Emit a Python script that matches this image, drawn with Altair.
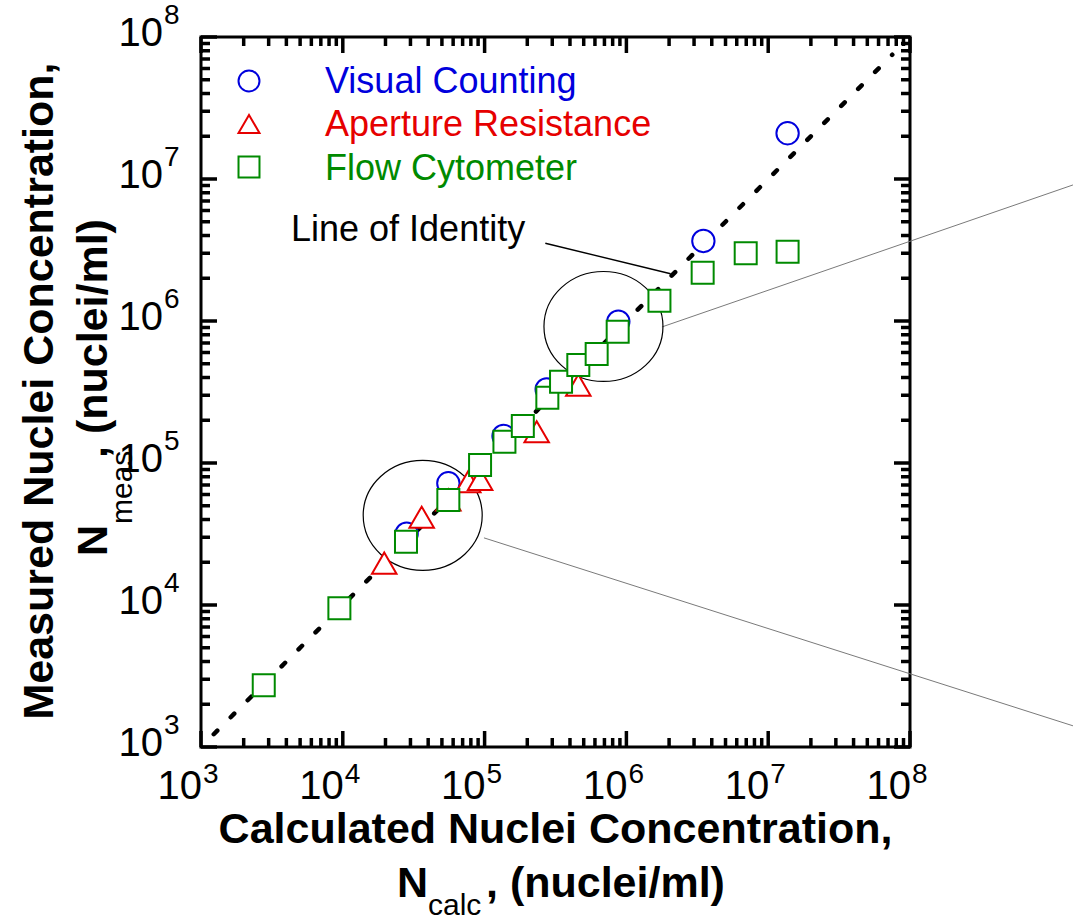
import altair as alt
import pandas as pd

W, H = 709, 710
FONT = "Liberation Sans"

# ---------------- data ----------------
# Visual Counting (blue circles)
vc_x = [2.82e4, 5.55e4, 1.36e5, 2.74e5, 8.77e5, 3.49e6, 1.37e7]
vc_y = [3.18e4, 7.2e4, 1.55e5, 3.3e5, 9.9e5, 3.66e6, 2.1e7]
# Aperture Resistance (red triangles)
ar_x = [1.96e4, 3.6e4, 5.55e4, 7.67e4, 9.3e4, 2.33e5, 4.58e5]
ar_y = [1.97e4, 4.15e4, 5.49e4, 7.39e4, 7.67e4, 1.66e5, 3.54e5]
# Flow Cytometer (green squares)
fc_x = [2.77e3, 9.46e3, 2.79e4, 5.55e4, 9.29e4, 1.38e5, 1.86e5, 2.77e5,
        3.46e5, 4.58e5, 6.17e5, 8.68e5, 1.71e6, 3.45e6, 6.94e6, 1.37e7]
fc_y = [2.72e3, 9.5e3, 2.79e4, 5.49e4, 9.68e4, 1.41e5, 1.82e5, 2.88e5,
        3.74e5, 4.9e5, 5.86e5, 8.41e5, 1.39e6, 2.19e6, 3.0e6, 3.08e6]

series_names = ["Visual Counting", "Aperture Resistance", "Flow Cytometer"]
series_colors = ["#0000dd", "#e60000", "#008a00"]
series_shapes = ["circle", "triangle-up", "square"]
series_sizes = [500, 600, 484]

# line of identity
identity_vals = [1.23e3, 7.5e7]
# "Line of Identity" leader
leader_x = [2.68e5, 2.05e6]
leader_y = [3.53e6, 2.15e6]
# highlight ellipses
ellipse_x = [3.66e4, 6.89e5]
ellipse_y = [4.28e4, 9.15e5]
# zoom-out guide lines (start at ellipse edge, run off to the right)
guide_x1 = [1.78e6, 9.9e4]
guide_y1 = [9.08e5, 2.97e4]
guide_x2 = [1.41e9, 1.41e9]
guide_y2 = [9.08e6, 1.41e3]

# axis ticks / labels
decades = [1e3, 1e4, 1e5, 1e6, 1e7, 1e8]
tick_base = "10"
tick_exp = ["3", "4", "5", "6", "7", "8"]
minor_mult = [2, 3, 4, 5, 6, 7, 8, 9]
minor_vals = [m * d for d in decades[:-1] for m in minor_mult]
MAJOR_LEN, MINOR_LEN = 16, 9

# ---------------- frames ----------------
pts_rows = []
for name, xs_, ys_, col, shp, sz in zip(series_names, [vc_x, ar_x, fc_x], [vc_y, ar_y, fc_y],
                                         series_colors, series_shapes, series_sizes):
    for a, b in zip(xs_, ys_):
        pts_rows.append({"x": a, "y": b, "series": name, "color": col, "shape": shp, "size": sz})
pts_df = pd.DataFrame(pts_rows)

leg_df = pd.DataFrame({"name": series_names, "color": series_colors,
                       "shape": series_shapes, "row": [0, 1, 2]})
lab_df = pd.DataFrame({"v": decades, "base": [tick_base] * len(decades), "exp": tick_exp})
major_df = pd.DataFrame({"v": decades})
minor_df = pd.DataFrame({"v": minor_vals})


def xscale():
    return alt.Scale(type="log", domain=[1e3, 1e8], nice=False)


def yscale():
    return alt.Scale(type="log", domain=[1e3, 1e8], nice=False)


# inward ticks on all four sides of the frame
tick_layers = []
for df, ln in [(major_df, MAJOR_LEN), (minor_df, MINOR_LEN)]:
    vt = dict(color="black", thickness=3.5, size=ln, orient="vertical", opacity=1)
    ht = dict(color="black", thickness=3.5, size=ln, orient="horizontal", opacity=1)
    tick_layers.append(alt.Chart(df).mark_tick(**vt).encode(
        x=alt.X("v:Q", scale=xscale(), axis=None), y=alt.value(H - ln / 2)))
    tick_layers.append(alt.Chart(df).mark_tick(**vt).encode(
        x=alt.X("v:Q", scale=xscale(), axis=None), y=alt.value(ln / 2)))
    tick_layers.append(alt.Chart(df).mark_tick(**ht).encode(
        y=alt.Y("v:Q", scale=yscale(), axis=None), x=alt.value(ln / 2)))
    tick_layers.append(alt.Chart(df).mark_tick(**ht).encode(
        y=alt.Y("v:Q", scale=yscale(), axis=None), x=alt.value(W - ln / 2)))

guide = alt.Chart(pd.DataFrame({"x": guide_x1, "y": guide_y1, "x2": guide_x2, "y2": guide_y2})).mark_rule(
    color="#7a7a7a", strokeWidth=1, clip=False
).encode(
    x=alt.X("x:Q", scale=xscale(), axis=None),
    y=alt.Y("y:Q", scale=yscale(), axis=None),
    x2="x2:Q", y2="y2:Q",
)

ELLIPSE = "M-1,0A1,0.924,0,1,1,1,0A1,0.924,0,1,1,-1,0Z"
ellipses = alt.Chart(pd.DataFrame({"x": ellipse_x, "y": ellipse_y})).mark_point(
    shape=ELLIPSE, size=14161, color="black", strokeWidth=1.2, filled=False, opacity=1
).encode(
    x=alt.X("x:Q", scale=xscale(), axis=None),
    y=alt.Y("y:Q", scale=yscale(), axis=None),
)

ident = alt.Chart(pd.DataFrame({"x": identity_vals, "y": identity_vals})).mark_line(
    color="black", strokeWidth=4.5, strokeDash=[5, 19], strokeCap="round"
).encode(
    x=alt.X("x:Q", scale=xscale(), axis=None),
    y=alt.Y("y:Q", scale=yscale(), axis=None),
)

leader = alt.Chart(pd.DataFrame({"x": leader_x[:1], "y": leader_y[:1],
                                 "x2": leader_x[1:], "y2": leader_y[1:]})).mark_rule(
    color="black", strokeWidth=1.4
).encode(
    x=alt.X("x:Q", scale=xscale(), axis=None),
    y=alt.Y("y:Q", scale=yscale(), axis=None),
    x2="x2:Q", y2="y2:Q",
)

points = alt.Chart(pts_df).mark_point(
    filled=True, fill="white", opacity=1, fillOpacity=1, strokeWidth=2
).encode(
    x=alt.X("x:Q", scale=xscale(), axis=None),
    y=alt.Y("y:Q", scale=yscale(), axis=None),
    stroke=alt.Stroke("color:N", scale=None),
    shape=alt.Shape("shape:N", scale=None),
    size=alt.Size("size:Q", scale=None),
)

# legend
leg_pts = alt.Chart(leg_df).mark_point(
    filled=True, fill="white", opacity=1, strokeWidth=2, size=440
).encode(
    x=alt.value(48),
    y=alt.Y("ly:Q", scale=None, axis=None),
    stroke=alt.Stroke("color:N", scale=None),
    shape=alt.Shape("shape:N", scale=None),
).transform_calculate(ly="44 + 43 * datum.row")

leg_txt = alt.Chart(leg_df).mark_text(
    align="left", baseline="alphabetic", fontSize=36, font=FONT
).encode(
    x=alt.value(124),
    y=alt.Y("ly:Q", scale=None, axis=None),
    text="name:N",
    color=alt.Color("color:N", scale=None),
).transform_calculate(ly="55.5 + 43.5 * datum.row")

# tick labels
xl_base = alt.Chart(lab_df).mark_text(align="right", baseline="alphabetic", fontSize=40, dx=1, font=FONT).encode(
    x=alt.X("v:Q", scale=xscale(), axis=None), y=alt.value(H + 52), text="base:N")
xl_exp = alt.Chart(lab_df).mark_text(align="left", baseline="alphabetic", fontSize=28, dx=2, font=FONT).encode(
    x=alt.X("v:Q", scale=xscale(), axis=None), y=alt.value(H + 36), text="exp:N")
yl_base = alt.Chart(lab_df).mark_text(align="right", baseline="alphabetic", fontSize=40, dy=9, font=FONT).encode(
    y=alt.Y("v:Q", scale=yscale(), axis=None), x=alt.value(-38), text="base:N")
yl_exp = alt.Chart(lab_df).mark_text(align="left", baseline="alphabetic", fontSize=28, dy=-13, font=FONT).encode(
    y=alt.Y("v:Q", scale=yscale(), axis=None), x=alt.value(-37), text="exp:N")


def label(txt, x, y, size, weight="normal", align="left", angle=0, color="black"):
    kw = dict(align=align, baseline="alphabetic", fontSize=size, fontWeight=weight,
              font=FONT, color=color, text=txt)
    if angle:
        kw["angle"] = angle
    return alt.Chart(pd.DataFrame({"t": [txt]})).mark_text(**kw).encode(
        x=alt.value(x), y=alt.value(y))


texts = [
    label("Line of Identity", 90, 204, 36),
    # x title
    label("Calculated Nuclei Concentration,", W / 2, 806, 43, "bold", "center"),
    label("N", 196, 860, 43, "bold"),
    label("calc", 227, 878, 30),
    label(", (nuclei/ml)", 285, 860, 43, "bold"),
    # y title
    label("Measured Nuclei Concentration,", -148, 354, 43, "bold", "center", 270),
    label("N", -94, 519, 43, "bold", "left", 270),
    label("meas", -69, 487, 30, "normal", "left", 270),
    label(", (nuclei/ml)", -94, 421, 43, "bold", "left", 270),
]

chart = alt.layer(
    guide, ellipses, ident, leader, points, leg_pts, leg_txt,
    xl_base, xl_exp, yl_base, yl_exp, *texts, *tick_layers
).resolve_scale(
    x="independent", y="independent"
).properties(
    width=W, height=H,
    padding={"left": 201, "top": 37, "right": 163, "bottom": 174},
    autosize=alt.AutoSizeParams(type="none"),
    background="white",
).configure_view(
    stroke="black", strokeWidth=3
)

chart.save("out.html", embed_options={"renderer": "svg", "actions": False})
